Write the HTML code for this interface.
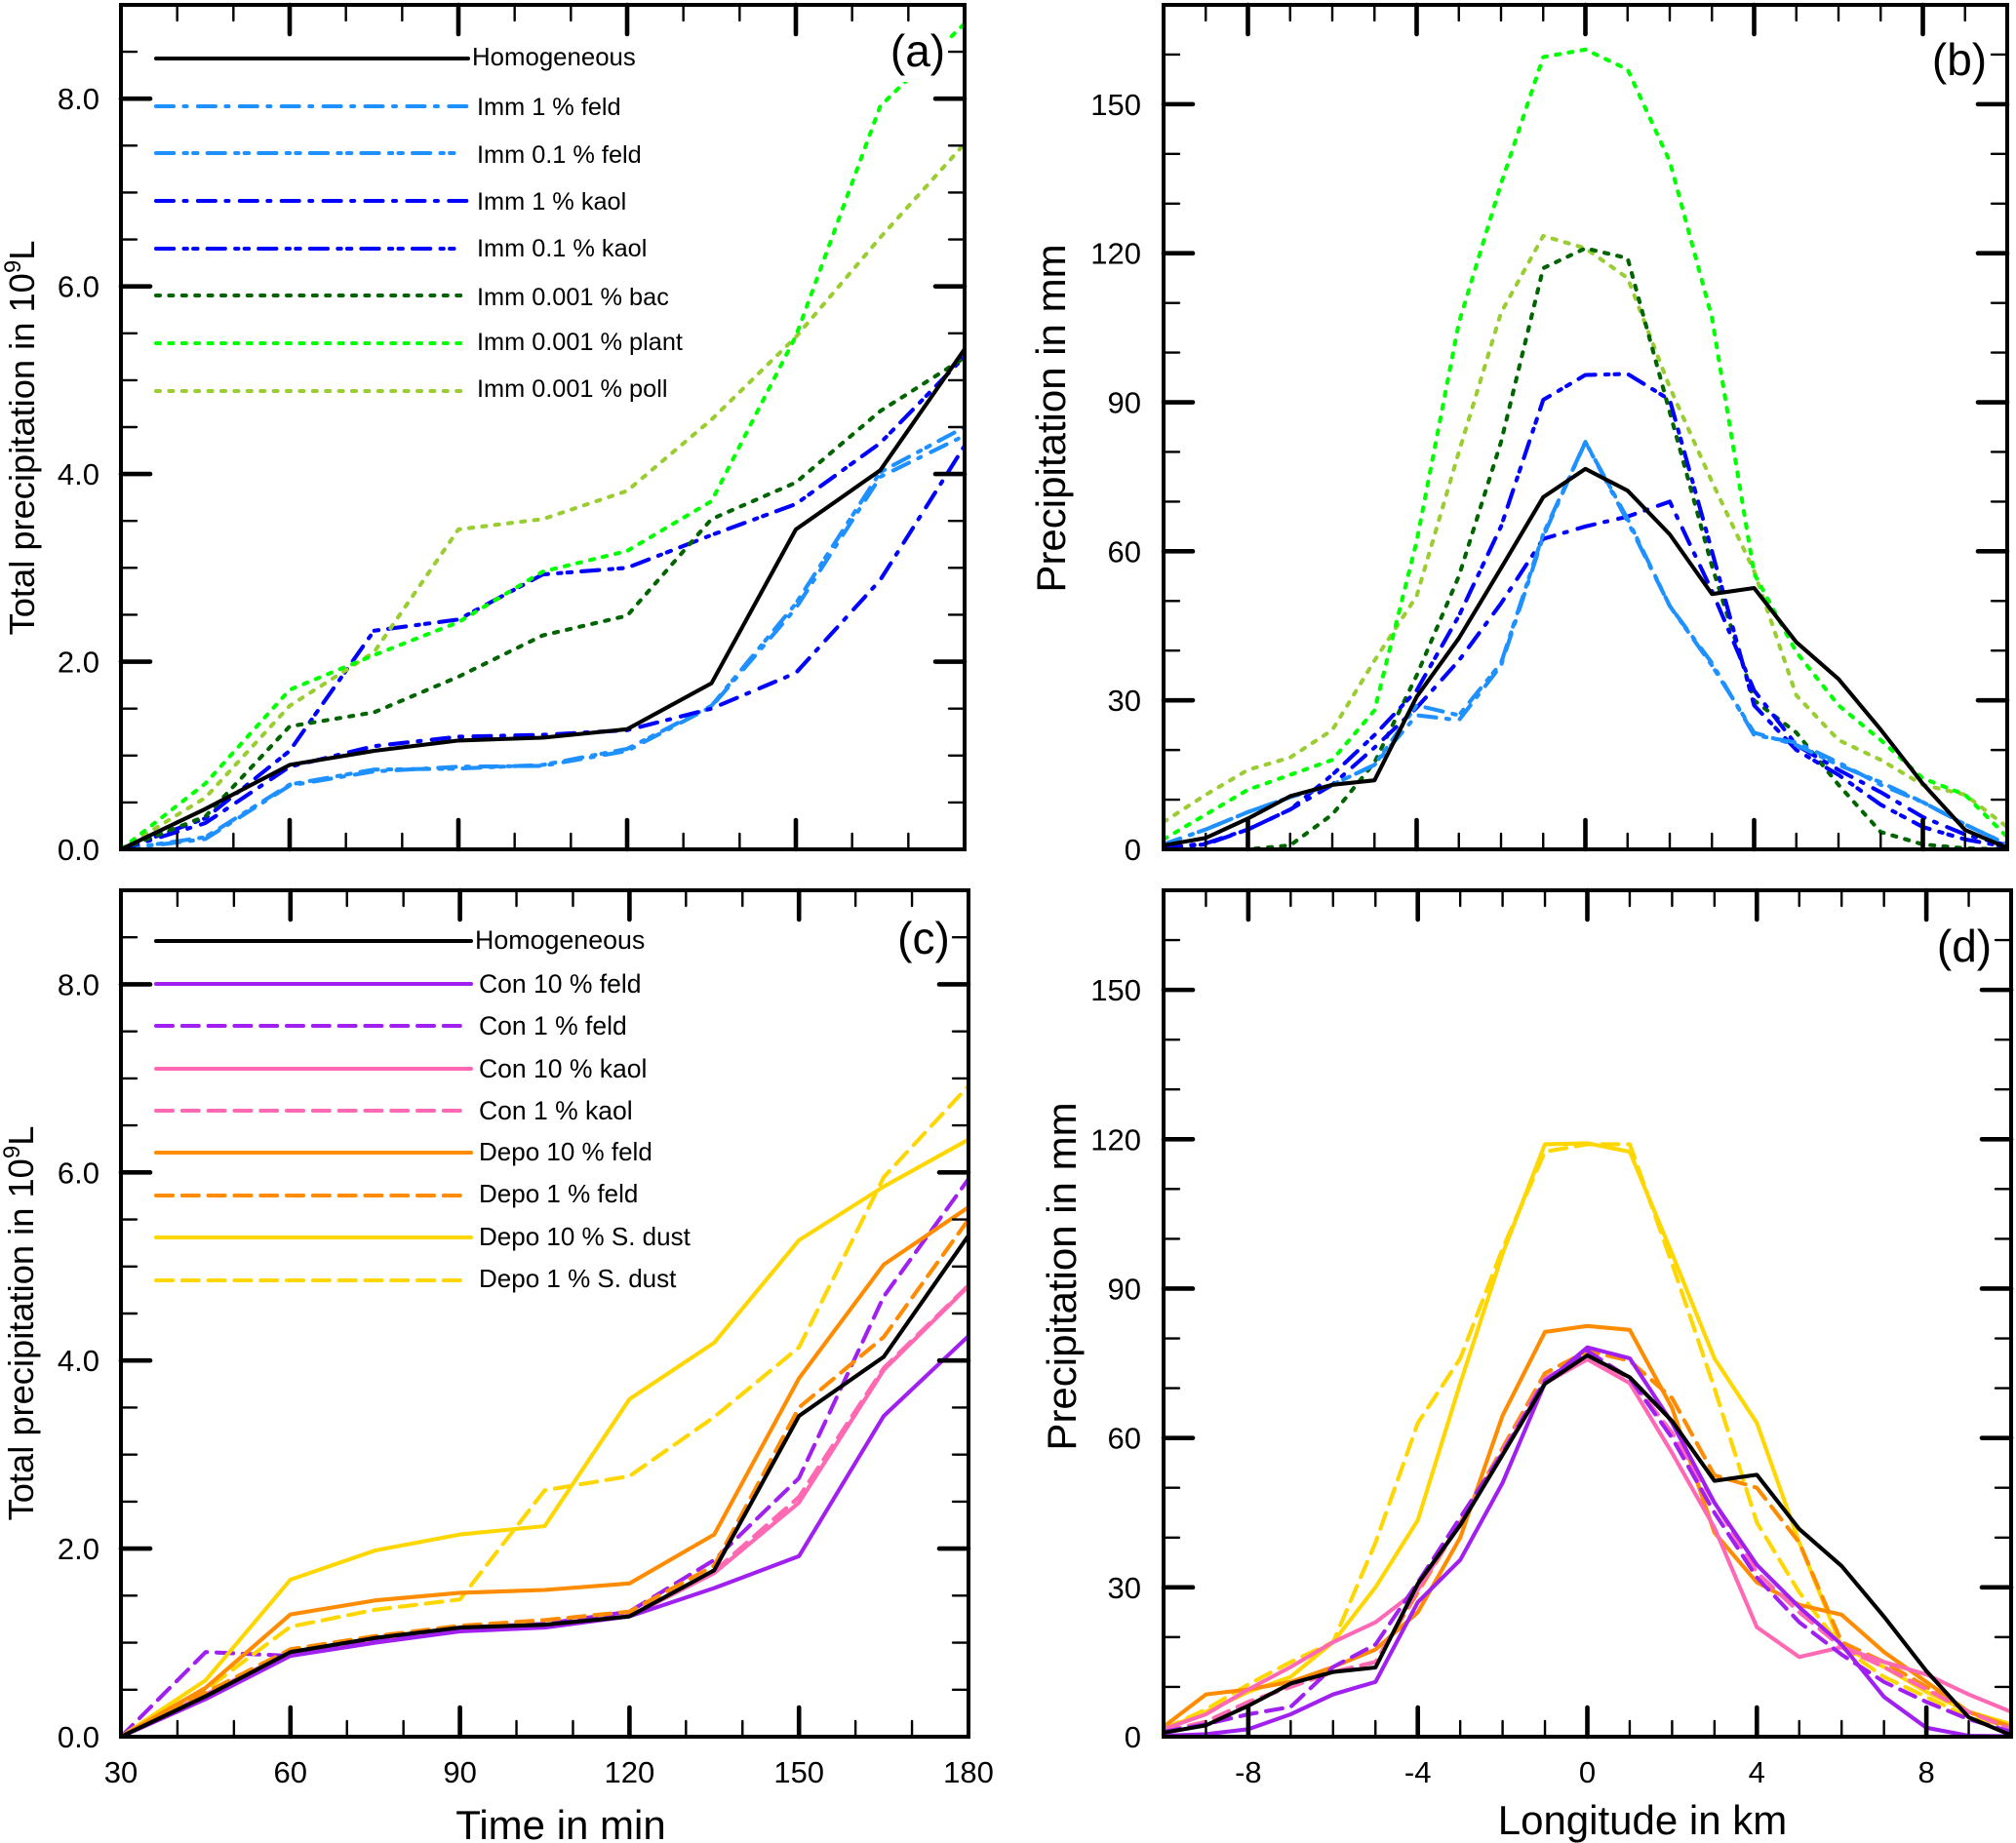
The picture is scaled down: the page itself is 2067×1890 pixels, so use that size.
<!DOCTYPE html>
<html lang="en">
<head>
<meta charset="utf-8">
<title>Precipitation charts</title>
<style>
  html, body { margin: 0; padding: 0; background: #fff; }
  svg { display: block; font-family: "Liberation Sans", sans-serif; fill: #000; }
  .legend-text-a { font-size: 25.3px; }
  .legend-text-c { font-size: 26.5px; }
  .legend-text-depo { font-size: 26px; }
  .axis-title { font-size: 42px; }
  .panel-label { font-size: 46px; }
</style>
</head>
<body>
<svg id="figure" xmlns="http://www.w3.org/2000/svg" width="2067" height="1890" viewBox="0 0 2067 1890">
  <defs>
    <clipPath id="clip-a"><rect x="124" y="5" width="865" height="866"/></clipPath>
    <clipPath id="clip-b"><rect x="1193" y="5" width="865" height="866"/></clipPath>
    <clipPath id="clip-c"><rect x="124" y="913" width="869" height="868"/></clipPath>
    <clipPath id="clip-d"><rect x="1193" y="913" width="869" height="868"/></clipPath>
  </defs>

  <g id="layer-a"></g>
  <g id="layer-b"></g>
  <g id="layer-c"></g>
  <g id="layer-d"></g>

  <!-- axis titles -->
  <text transform="translate(35,449) rotate(-90)" text-anchor="middle" font-size="36.3">Total precipitation in 10<tspan dy="-14" font-size="24">9</tspan><tspan dy="14">L</tspan></text>
  <text transform="translate(34,1357) rotate(-90)" text-anchor="middle" font-size="36.3">Total precipitation in 10<tspan dy="-14" font-size="24">9</tspan><tspan dy="14">L</tspan></text>
  <text class="axis-title" transform="translate(1092,429) rotate(-90)" text-anchor="middle">Precipitation in mm</text>
  <text class="axis-title" transform="translate(1103,1309) rotate(-90)" text-anchor="middle">Precipitation in mm</text>
  <text class="axis-title" x="575" y="1886" text-anchor="middle">Time in min</text>
  <text class="axis-title" x="1684" y="1881" text-anchor="middle">Longitude in km</text>

  <!-- panel labels -->
  <rect x="910" y="28" width="62" height="56" fill="#fff"/>
  <text class="panel-label" x="941" y="68" text-anchor="middle">(a)</text>
  <text class="panel-label" x="2009" y="77" text-anchor="middle">(b)</text>
  <text class="panel-label" x="947" y="978" text-anchor="middle">(c)</text>
  <text class="panel-label" x="2014" y="986" text-anchor="middle">(d)</text>

  <!-- legend panel a -->
  <g fill="none" stroke-width="4" stroke-linecap="round">
    <line x1="160" y1="60" x2="480" y2="60" stroke="#000"/>
    <line x1="160" y1="109" x2="480" y2="109" stroke="#1e90ff" stroke-dasharray="18 10.5 3 11.4"/>
    <line x1="160" y1="157" x2="473" y2="157" stroke="#1e90ff" stroke-dasharray="18.2 10.3 3.3 6.3 4.4 10.1"/>
    <line x1="160" y1="206" x2="480" y2="206" stroke="#0000ff" stroke-dasharray="18 10.5 3 11.4"/>
    <line x1="160" y1="255" x2="473" y2="255" stroke="#0000ff" stroke-dasharray="18.2 10.3 3.3 6.3 4.4 10.1"/>
    <line x1="160" y1="303" x2="474" y2="303" stroke="#006400" stroke-dasharray="4 9.4"/>
    <line x1="160" y1="352" x2="474" y2="352" stroke="#00ff00" stroke-dasharray="4 9.4"/>
    <line x1="160" y1="401" x2="474" y2="401" stroke="#9acd32" stroke-dasharray="4 9.4"/>
  </g>
  <g>
    <text x="484" y="67" font-size="25.8">Homogeneous</text>
    <text class="legend-text-a" x="489" y="118">Imm 1 % feld</text>
    <text class="legend-text-a" x="489" y="167">Imm 0.1 % feld</text>
    <text class="legend-text-a" x="489" y="215">Imm 1 % kaol</text>
    <text class="legend-text-a" x="489" y="263">Imm 0.1 % kaol</text>
    <text class="legend-text-a" x="489" y="313">Imm 0.001 % bac</text>
    <text class="legend-text-a" x="489" y="359">Imm 0.001 % plant</text>
    <text class="legend-text-a" x="489" y="407">Imm 0.001 % poll</text>
  </g>

  <!-- legend panel c -->
  <g fill="none" stroke-width="4" stroke-linecap="round">
    <line x1="160" y1="965" x2="483" y2="965" stroke="#000"/>
    <line x1="160" y1="1009" x2="483" y2="1009" stroke="#a020f0"/>
    <line x1="160" y1="1052" x2="475" y2="1052" stroke="#a020f0" stroke-dasharray="17 9.8"/>
    <line x1="160" y1="1096" x2="483" y2="1096" stroke="#ff69b4"/>
    <line x1="160" y1="1139" x2="475" y2="1139" stroke="#ff69b4" stroke-dasharray="17 9.8"/>
    <line x1="160" y1="1182" x2="483" y2="1182" stroke="#ff8c00"/>
    <line x1="160" y1="1226" x2="475" y2="1226" stroke="#ff8c00" stroke-dasharray="17 9.8"/>
    <line x1="160" y1="1269" x2="483" y2="1269" stroke="#ffd700"/>
    <line x1="160" y1="1313" x2="475" y2="1313" stroke="#ffd700" stroke-dasharray="17 9.8"/>
  </g>
  <g>
    <text x="487" y="973" font-size="26.8">Homogeneous</text>
    <text class="legend-text-c" x="491" y="1018">Con 10 % feld</text>
    <text class="legend-text-c" x="491" y="1061">Con 1 % feld</text>
    <text class="legend-text-c" x="491" y="1105">Con 10 % kaol</text>
    <text class="legend-text-c" x="491" y="1148">Con 1 % kaol</text>
    <text class="legend-text-depo" x="491" y="1190">Depo 10 % feld</text>
    <text class="legend-text-depo" x="491" y="1233">Depo 1 % feld</text>
    <text class="legend-text-depo" x="491" y="1277">Depo 10 % S. dust</text>
    <text class="legend-text-depo" x="491" y="1320">Depo 1 % S. dust</text>
  </g>
</svg>

<script>
// ---- categories
const timeMinutes = [30, 45, 60, 75, 90, 105, 120, 135, 150, 165, 180];
const longitudeKm = [-10, -9, -8, -7, -6, -5, -4, -3, -2, -1, 0, 1, 2, 3, 4, 5, 6, 7, 8, 9, 10];

// ---- tick labels
const timeTickLabels = ['30', '60', '90', '120', '150', '180'];
const longitudeTickLabels = ['-8', '-4', '0', '4', '8'];
const totalTickLabels = ['0.0', '2.0', '4.0', '6.0', '8.0'];
const precipTickLabels = ['0', '30', '60', '90', '120', '150'];

// ---- total precipitation over time, panel (a) and (c)
const totalHomogeneous = [0, 0.43, 0.90, 1.05, 1.16, 1.19, 1.28, 1.77, 3.41, 4.04, 5.33];
const totalImm1Feld = [0, 0.11, 0.68, 0.83, 0.88, 0.89, 1.05, 1.52, 2.57, 3.97, 4.41];
const totalImm01Feld = [0, 0.13, 0.69, 0.85, 0.86, 0.90, 1.07, 1.53, 2.62, 4.02, 4.50];
const totalImm1Kaol = [0, 0.28, 0.88, 1.10, 1.20, 1.22, 1.27, 1.50, 1.88, 2.87, 4.30];
const totalImm01Kaol = [0, 0.33, 1.05, 2.33, 2.45, 2.93, 3.00, 3.35, 3.68, 4.33, 5.25];
const totalImmBac = [0, 0.35, 1.31, 1.46, 1.84, 2.28, 2.49, 3.52, 3.91, 4.67, 5.24];
const totalImmPlant = [0, 0.70, 1.70, 2.07, 2.42, 2.96, 3.18, 3.71, 5.47, 7.92, 8.80];
const totalImmPoll = [0, 0.55, 1.53, 2.10, 3.41, 3.52, 3.82, 4.58, 5.46, 6.52, 7.52];

const totalCon10Feld = [0, 0.40, 0.86, 1.00, 1.12, 1.16, 1.28, 1.58, 1.92, 3.41, 4.26];
const totalCon1Feld = [0, 0.90, 0.86, 1.03, 1.16, 1.20, 1.33, 1.88, 2.75, 4.68, 5.93];
const totalCon10Kaol = [0, 0.45, 0.90, 1.03, 1.15, 1.18, 1.28, 1.74, 2.49, 3.90, 4.79];
const totalCon1Kaol = [0, 0.44, 0.91, 1.04, 1.15, 1.19, 1.29, 1.76, 2.55, 3.92, 4.80];
const totalDepo10Feld = [0, 0.52, 1.30, 1.45, 1.53, 1.56, 1.63, 2.15, 3.81, 5.02, 5.63];
const totalDepo1Feld = [0, 0.47, 0.93, 1.07, 1.18, 1.24, 1.33, 1.82, 3.50, 4.25, 5.50];
const totalDepo10Dust = [0, 0.60, 1.67, 1.98, 2.15, 2.24, 3.59, 4.19, 5.28, 5.85, 6.35];
const totalDepo1Dust = [0, 0.50, 1.17, 1.35, 1.46, 2.62, 2.77, 3.40, 4.14, 5.95, 6.92];

// ---- precipitation over longitude, panel (b) and (d)
const precipHomogeneous = [0.8, 2.3, 6.2, 10.7, 13, 13.9, 30.7, 42.5, 56.6, 70.9, 76.6, 72.2, 63.4, 51.4, 52.6, 41.7, 34.3, 24.1, 13.2, 3.9, 0.3];
const precipImm1Feld = [1, 4, 7.5, 10.5, 13, 17, 27, 26, 37, 63, 82, 66, 49, 37.5, 23, 21.5, 17.5, 13, 9.5, 5, 1];
const precipImm01Feld = [1, 4, 7.5, 10.5, 13, 17, 29, 27, 37.5, 63.5, 82, 66.5, 49, 37, 23.5, 21, 17, 13.5, 9.5, 5, 1];
const precipImm1Kaol = [0.3, 1.2, 4, 8, 13, 20.5, 28.5, 38, 49.5, 62.5, 65, 67, 70, 52, 32, 21, 16, 11.5, 6.5, 3, 0.8];
const precipImm01Kaol = [0.3, 1, 4, 8, 15, 23, 32, 47, 65, 90.5, 95.5, 95.7, 90.5, 60, 29, 20, 15, 9, 4.5, 2, 0.5];
const precipImmBac = [0, 0, 0, 0.8, 7, 17.5, 35, 55, 82, 117, 121, 119, 88, 57, 30, 23.5, 13, 3.5, 1, 0.2, 0];
const precipImmPlant = [2, 7, 12, 15, 18, 28, 62, 106, 134, 159.5, 161, 157, 138.5, 107, 55.5, 39.7, 29, 22, 14.3, 11, 2.5];
const precipImmPoll = [5.5, 11, 16, 18.5, 24, 38, 51, 80, 108, 123.5, 121, 115, 93, 74, 56, 31, 22, 18, 13, 11, 4.5];

const precipCon10Feld = [0.2, 0.5, 1.5, 4.5, 8.5, 11, 27, 35.5, 51, 71, 78.2, 76, 63, 47, 34.5, 26, 18.5, 8, 1.8, 0.2, 0.1];
const precipCon1Feld = [1, 2.5, 4.5, 6, 14, 18.5, 31, 44, 57, 71.5, 77.5, 72, 60, 45, 32, 23, 16.5, 11, 7, 3.5, 1];
const precipCon10Kaol = [1.5, 4.5, 9.5, 14, 19, 23, 29.5, 43, 57, 71, 75.8, 71, 57, 42, 22, 16, 18, 15, 12.5, 8.5, 5];
const precipCon1Kaol = [1, 3, 7, 10, 13, 15, 29.5, 43, 57.5, 72, 76.5, 72, 61, 47, 33, 25, 18, 14, 9.5, 5, 1.5];
const precipDepo10Feld = [2, 8.5, 9.5, 11, 14, 17.5, 25, 40, 64.5, 81.3, 82.5, 81.7, 66, 41, 31, 26.5, 24.5, 17, 11, 5, 2];
const precipDepo1Feld = [1, 3, 7, 10, 13, 15, 29, 43, 58, 73, 77.5, 75.5, 68, 52.5, 50, 39, 19, 15, 10, 5, 1.5];
const precipDepo10Dust = [1.5, 5, 9, 12, 19, 30, 43.5, 71, 97, 119, 119.2, 117.5, 97, 76, 63, 39, 18, 14, 9, 5, 2.5];
const precipDepo1Dust = [1.5, 5.5, 10.5, 15, 19, 39, 63, 76, 98, 117.5, 119, 119, 95, 70, 43, 29, 18, 12, 8, 4, 2];

// ---- line styles
const DASH_DOT = '18 10.5 3 11.4';
const DASH_DOT_DOT = '18.2 10.3 3.3 6.3 4.4 10.1';
const DOTTED = '4 9.4';
const DASHED = '17 9.8';

const NS = 'http://www.w3.org/2000/svg';

function make(tag, attrs, parent) {
  const el = document.createElementNS(NS, tag);
  for (const k in attrs) el.setAttribute(k, attrs[k]);
  parent.appendChild(el);
  return el;
}

function drawPanel(p) {
  const layer = document.getElementById('layer-' + p.id);
  const xPos = v => p.left + (v - p.xMin) / (p.xMax - p.xMin) * (p.right - p.left);
  const yPos = v => p.bottom - (v - p.yMin) / (p.yMax - p.yMin) * (p.bottom - p.top);

  // series
  const lines = make('g', { 'clip-path': 'url(#clip-' + p.id + ')', fill: 'none', 'stroke-linejoin': 'round' }, layer);
  
  
  p.series.forEach(s => {
    const pts = s.values.map((v, i) => xPos(p.categories[i]).toFixed(1) + ',' + yPos(v).toFixed(1)).join(' ');
    const line = make('polyline', { points: pts, stroke: s.color, 'stroke-width': s.width || 4.1, 'stroke-linecap': 'round' }, lines);
    if (s.dash) line.setAttribute('stroke-dasharray', s.dash);
    
    
  });

  // ticks
  const ticks = make('g', { stroke: '#000', 'stroke-linecap': 'round' }, layer);
  
  
  const MAJOR = 30, MINOR = 16;
  for (let v = p.xMin; v <= p.xMax + 1e-6; v += p.xMinor) {
    const isMajor = Math.abs(((v - p.xMajorStart) / p.xMajor) - Math.round((v - p.xMajorStart) / p.xMajor)) < 1e-6;
    if (v === p.xMin || v === p.xMax) continue;
    const x = xPos(v), len = isMajor ? MAJOR : MINOR, w = isMajor ? 4.6 : 2.4;
    const t1 = make('line', { x1: x, x2: x, y1: p.top, y2: p.top + len, 'stroke-width': w }, ticks);
    
    
    const t2 = make('line', { x1: x, x2: x, y1: p.bottom, y2: p.bottom - len, 'stroke-width': w }, ticks);
    
    
  }
  for (let k = 0; p.yMin + k * p.yMinor <= p.yMax + 1e-6; k++) {
    const v = p.yMin + k * p.yMinor;
    if (k === 0) continue;
    const isMajor = k % p.yMajorEvery === 0;
    const y = yPos(v), len = isMajor ? MAJOR : MINOR, w = isMajor ? 4.6 : 2.4;
    const t1 = make('line', { y1: y, y2: y, x1: p.left, x2: p.left + len, 'stroke-width': w }, ticks);
    
    
    const t2 = make('line', { y1: y, y2: y, x1: p.right, x2: p.right - len, 'stroke-width': w }, ticks);
    
    
  }

  // frame
  const frame = make('rect', { x: p.left, y: p.top, width: p.right - p.left, height: p.bottom - p.top, fill: 'none', stroke: '#000', 'stroke-width': 4 }, layer);
  
  

  // y tick labels
  p.yLabels.forEach(label => {
    const t = make('text', { x: p.yLabelX, y: yPos(parseFloat(label)) + 11, 'text-anchor': 'end', 'font-size': 31 }, layer);
    t.textContent = label;
    
    
  });

  // x tick labels
  (p.xLabels || []).forEach(label => {
    const t = make('text', { x: xPos(parseFloat(label)), y: p.xLabelY, 'text-anchor': 'middle', 'font-size': 31 }, layer);
    t.textContent = label;
    
    
  });
}

const seriesA = [
  { name: 'imm-1-feld', color: '#1e90ff', dash: DASH_DOT, values: totalImm1Feld },
  { name: 'imm-01-feld', color: '#1e90ff', dash: DASH_DOT_DOT, values: totalImm01Feld },
  { name: 'imm-1-kaol', color: '#0000ff', dash: DASH_DOT, values: totalImm1Kaol },
  { name: 'imm-01-kaol', color: '#0000ff', dash: DASH_DOT_DOT, values: totalImm01Kaol },
  { name: 'imm-0001-bac', color: '#006400', dash: DOTTED, values: totalImmBac },
  { name: 'imm-0001-poll', color: '#9acd32', dash: DOTTED, values: totalImmPoll },
  { name: 'imm-0001-plant', color: '#00ff00', dash: DOTTED, values: totalImmPlant },
  { name: 'homogeneous', color: '#000000', values: totalHomogeneous }
];
const seriesB = [
  { name: 'imm-0001-poll', color: '#9acd32', dash: DOTTED, values: precipImmPoll },
  { name: 'imm-0001-plant', color: '#00ff00', dash: DOTTED, values: precipImmPlant },
  { name: 'imm-0001-bac', color: '#006400', dash: DOTTED, values: precipImmBac },
  { name: 'imm-1-kaol', color: '#0000ff', dash: DASH_DOT, values: precipImm1Kaol },
  { name: 'imm-01-kaol', color: '#0000ff', dash: DASH_DOT_DOT, values: precipImm01Kaol },
  { name: 'imm-1-feld', color: '#1e90ff', dash: DASH_DOT, values: precipImm1Feld },
  { name: 'imm-01-feld', color: '#1e90ff', dash: DASH_DOT_DOT, values: precipImm01Feld },
  { name: 'homogeneous', color: '#000000', values: precipHomogeneous }
];
const seriesC = [
  { name: 'con-1-kaol', color: '#ff69b4', dash: DASHED, values: totalCon1Kaol },
  { name: 'con-10-kaol', color: '#ff69b4', values: totalCon10Kaol },
  { name: 'con-10-feld', color: '#a020f0', values: totalCon10Feld },
  { name: 'con-1-feld', color: '#a020f0', dash: DASHED, values: totalCon1Feld },
  { name: 'depo-10-dust', color: '#ffd700', values: totalDepo10Dust },
  { name: 'depo-1-dust', color: '#ffd700', dash: DASHED, values: totalDepo1Dust },
  { name: 'depo-10-feld', color: '#ff8c00', values: totalDepo10Feld },
  { name: 'depo-1-feld', color: '#ff8c00', dash: DASHED, values: totalDepo1Feld },
  { name: 'homogeneous', color: '#000000', values: totalHomogeneous }
];
const seriesD = [
  { name: 'depo-10-dust', color: '#ffd700', values: precipDepo10Dust },
  { name: 'depo-1-dust', color: '#ffd700', dash: DASHED, values: precipDepo1Dust },
  { name: 'depo-10-feld', color: '#ff8c00', values: precipDepo10Feld },
  { name: 'depo-1-feld', color: '#ff8c00', dash: DASHED, values: precipDepo1Feld },
  { name: 'con-1-kaol', color: '#ff69b4', dash: DASHED, values: precipCon1Kaol },
  { name: 'con-10-kaol', color: '#ff69b4', values: precipCon10Kaol },
  { name: 'con-1-feld', color: '#a020f0', dash: DASHED, values: precipCon1Feld },
  { name: 'con-10-feld', color: '#a020f0', values: precipCon10Feld },
  { name: 'homogeneous', color: '#000000', values: precipHomogeneous }
];

const timeAxis = { categories: timeMinutes, xMin: 30, xMax: 180, xMinor: 10, xMajor: 30, xMajorStart: 30 };
const lonAxis = { categories: longitudeKm, xMin: -10, xMax: 10, xMinor: 1, xMajor: 4, xMajorStart: -8 };
const totalAxis = { yMin: 0, yMax: 9, yMinor: 0.5, yMajorEvery: 4, yLabels: totalTickLabels };
const precipAxis = { yMin: 0, yMax: 170, yMinor: 10, yMajorEvery: 3, yLabels: precipTickLabels };

drawPanel(Object.assign({ id: 'a', left: 124, right: 989, top: 5, bottom: 871, yLabelX: 102, series: seriesA }, timeAxis, totalAxis));
drawPanel(Object.assign({ id: 'b', left: 1193, right: 2058, top: 5, bottom: 871, yLabelX: 1170, series: seriesB }, lonAxis, precipAxis));
drawPanel(Object.assign({ id: 'c', left: 124, right: 993, top: 913, bottom: 1781, yLabelX: 102, xLabels: timeTickLabels, xLabelY: 1828, series: seriesC }, timeAxis, totalAxis));
drawPanel(Object.assign({ id: 'd', left: 1193, right: 2062, top: 913, bottom: 1781, yLabelX: 1170, xLabels: longitudeTickLabels, xLabelY: 1828, series: seriesD }, lonAxis, precipAxis));
</script>
</body>
</html>
